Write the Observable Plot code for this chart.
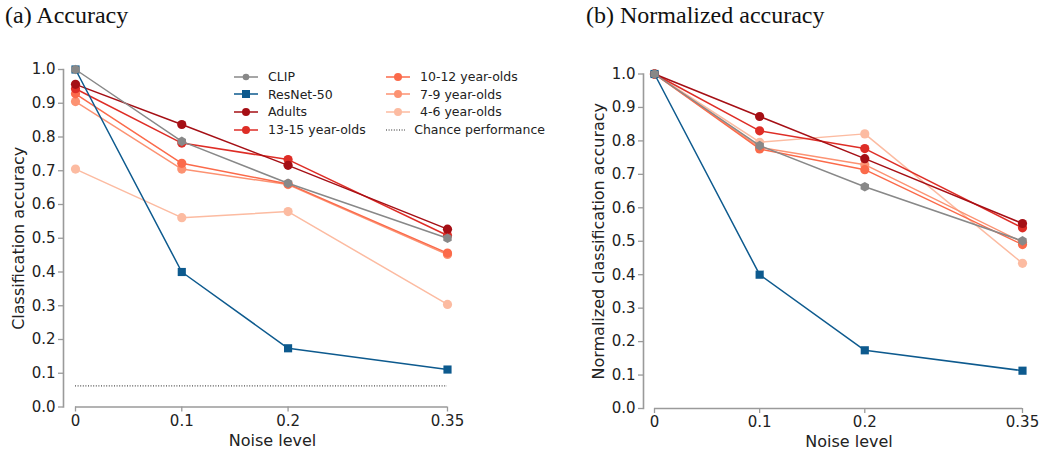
<!DOCTYPE html>
<html>
<head>
<meta charset="utf-8">
<script src="https://cdn.jsdelivr.net/npm/d3@7"></script>
<script src="https://cdn.jsdelivr.net/npm/@observablehq/plot@0.6"></script>
<style>
  body { margin: 0; background: #fff; }
  #root { position: relative; width: 1042px; height: 451px; overflow: hidden; background: #fff; }
  .title { position: absolute; z-index: 5; font-family: "Liberation Serif", "Times New Roman", serif; font-size: 24px; line-height: 1; color: #111; white-space: nowrap; }
  .panel { position: absolute; top: 0; z-index: 1; }
  #legend { position: absolute; z-index: 5; left: 233px; top: 68px; font-family: "DejaVu Sans", sans-serif; font-size: 12.5px; color: #222;
            display: grid; grid-template-columns: 152px 160px; grid-auto-flow: column; grid-template-rows: repeat(4, 17.6px); }
  #legend .item { display: flex; align-items: center; white-space: nowrap; }
  #legend svg { margin-right: 9px; }
</style>
</head>
<body>
<div id="root">
  <div class="panel" id="panelA" style="left:0px;"></div>
  <div class="panel" id="panelB" style="left:520px;"></div>
  <div class="title" id="titleA" style="left:5px; top:3px;">(a) Accuracy</div>
  <div class="title" id="titleB" style="left:586px; top:3px;">(b) Normalized accuracy</div>
  <div id="legend"></div>
</div>
<script>
// ---------- data ----------
const noise = [0, 0.1, 0.2, 0.35];
const xTickLabels = ["0", "0.1", "0.2", "0.35"];
const yTicks = [0, 0.1, 0.2, 0.3, 0.4, 0.5, 0.6, 0.7, 0.8, 0.9, 1.0];

const seriesNames = ["CLIP", "ResNet-50", "Adults", "13-15 year-olds", "10-12 year-olds", "7-9 year-olds", "4-6 year-olds"];
const seriesColors = ["#888888", "#0d5a8e", "#a50f15", "#de2d26", "#fb6a4a", "#fc9272", "#fcbba1"];
const seriesSymbols = ["hexagon", "square", "circle", "circle", "circle", "circle", "circle"];

// (a) accuracy
const accCLIP    = [1.000, 0.787, 0.663, 0.500];
const accResNet  = [1.000, 0.400, 0.174, 0.111];
const accAdults  = [0.956, 0.837, 0.716, 0.527];
const acc13_15   = [0.943, 0.782, 0.733, 0.508];
const acc10_12   = [0.928, 0.722, 0.661, 0.456];
const acc7_9     = [0.905, 0.705, 0.659, 0.452];
const acc4_6     = [0.705, 0.561, 0.579, 0.304];

// (b) normalized accuracy
const normCLIP   = [1.000, 0.786, 0.663, 0.501];
const normResNet = [1.000, 0.400, 0.174, 0.113];
const normAdults = [1.000, 0.873, 0.747, 0.553];
const norm13_15  = [1.000, 0.830, 0.777, 0.540];
const norm10_12  = [1.000, 0.776, 0.714, 0.490];
const norm7_9    = [1.000, 0.781, 0.729, 0.497];
const norm4_6    = [1.000, 0.796, 0.821, 0.434];

const chanceLevel = 0.0625;
const chanceLabel = "Chance performance";

const accSeries  = [accCLIP, accResNet, accAdults, acc13_15, acc10_12, acc7_9, acc4_6];
const normSeries = [normCLIP, normResNet, normAdults, norm13_15, norm10_12, norm7_9, norm4_6];

// ---------- chart builder ----------
const spine = "#9a9a9a";
const tickFont = "DejaVu Sans, sans-serif";

function toRows(seriesVals) {
  const rows = [];
  seriesVals.forEach((vals, si) => vals.forEach((v, i) => rows.push({series: seriesNames[si], idx: si, x: noise[i], y: v})));
  return rows;
}

function makeChart({vals, ylabel, width, marginLeft, insetLeft, marginRight, marginTop, marginBottom, chance, xLabelDx}) {
  const rows = toRows(vals);
  const drawOrder = [6, 5, 4, 3, 2, 1, 0];
  const marks = [];
  marks.push(Plot.frame({anchor: "left", stroke: spine, strokeWidth: 1.6}));
  marks.push(Plot.ruleY([{y: 0, x1: noise[0], x2: noise[noise.length - 1]}], {y: "y", x1: "x1", x2: "x2", stroke: spine, strokeWidth: 1.6}));
  marks.push(Plot.axisX({ticks: noise, tickFormat: d => xTickLabels[noise.indexOf(d)], tickSize: 5, tickPadding: 3,
    stroke: spine, strokeWidth: 1.3, fill: "#222", label: null, fontSize: 15}));
  marks.push(Plot.axisY({ticks: yTicks, tickFormat: d3.format(".1f"), tickSize: 5, tickPadding: 3,
    stroke: spine, strokeWidth: 1.3, fill: "#222", label: null, fontSize: 15}));
  marks.push(Plot.text([ylabel], {frameAnchor: "left", dx: -45, rotate: -90, textAnchor: "middle", lineAnchor: "middle",
    fontSize: 16, fill: "#222", text: d => d, fontFamily: tickFont}));
  marks.push(Plot.text(["Noise level"], {frameAnchor: "bottom", dy: 33.5, dx: xLabelDx, lineAnchor: "middle", textAnchor: "middle",
    fontSize: 16, fill: "#222", text: d => d, fontFamily: tickFont}));
  if (chance != null) {
    marks.push(Plot.ruleY([{y: chance, x1: noise[0], x2: noise[noise.length - 1]}], {y: "y", x1: "x1", x2: "x2",
      stroke: "#222", strokeWidth: 1, strokeDasharray: "1,1.6"}));
  }
  for (const si of drawOrder) {
    const data = rows.filter(r => r.idx === si);
    marks.push(Plot.line(data, {x: "x", y: "y", stroke: seriesColors[si], strokeWidth: 1.5}));
    const sym = seriesSymbols[si];
    marks.push(Plot.dot(data, {x: "x", y: "y", fill: seriesColors[si], stroke: "none", symbol: sym,
      r: sym === "square" ? 4.6 : sym === "hexagon" ? 4.2 : 4.6}));
  }
  return Plot.plot({
    width, height: 451, marginLeft, marginRight, marginTop, marginBottom, insetLeft,
    x: {type: "linear", domain: [noise[0], noise[noise.length - 1]]},
    y: {domain: [0, 1]},
    style: {fontFamily: tickFont, background: "transparent", color: "#222"},
    marks
  });
}

document.getElementById("panelA").append(makeChart({
  vals: accSeries, ylabel: "Classification accuracy", width: 520,
  marginLeft: 63, insetLeft: 12, marginRight: 73, marginTop: 69, marginBottom: 44.5, chance: chanceLevel, xLabelDx: 17
}));
document.getElementById("panelB").append(makeChart({
  vals: normSeries, ylabel: "Normalized classification accuracy", width: 522,
  marginLeft: 123, insetLeft: 11, marginRight: 20, marginTop: 73.5, marginBottom: 43, chance: null, xLabelDx: 16
}));

// ---------- legend ----------
const legend = document.getElementById("legend");
const legendEntries = seriesNames.map((n, i) => ({name: n, color: seriesColors[i], symbol: seriesSymbols[i]}));
legendEntries.push({name: chanceLabel, color: "#222", symbol: "chance"});
for (const e of legendEntries) {
  const item = document.createElement("div");
  item.className = "item";
  const ns = "http://www.w3.org/2000/svg";
  const svg = document.createElementNS(ns, "svg");
  svg.setAttribute("width", "26"); svg.setAttribute("height", "10");
  const line = document.createElementNS(ns, "line");
  line.setAttribute("x1", "1"); line.setAttribute("x2", "25"); line.setAttribute("y1", "5"); line.setAttribute("y2", "5");
  line.setAttribute("stroke", e.color);
  if (e.symbol === "chance") { line.setAttribute("stroke-width", "1"); line.setAttribute("stroke-dasharray", "1,1.6"); }
  else line.setAttribute("stroke-width", "1.5");
  svg.append(line);
  if (e.symbol === "circle") {
    const c = document.createElementNS(ns, "circle");
    c.setAttribute("cx", "13"); c.setAttribute("cy", "5"); c.setAttribute("r", "4"); c.setAttribute("fill", e.color);
    svg.append(c);
  } else if (e.symbol === "square") {
    const r = document.createElementNS(ns, "rect");
    r.setAttribute("x", "9"); r.setAttribute("y", "1"); r.setAttribute("width", "8"); r.setAttribute("height", "8"); r.setAttribute("fill", e.color);
    svg.append(r);
  } else if (e.symbol === "hexagon") {
    const c = document.createElementNS(ns, "circle");
    c.setAttribute("cx", "13"); c.setAttribute("cy", "5"); c.setAttribute("r", "3.3"); c.setAttribute("fill", e.color);
    svg.append(c);
  }
  const span = document.createElement("span");
  span.textContent = e.name;
  item.append(svg, span);
  legend.append(item);
}
</script>
</body>
</html>
